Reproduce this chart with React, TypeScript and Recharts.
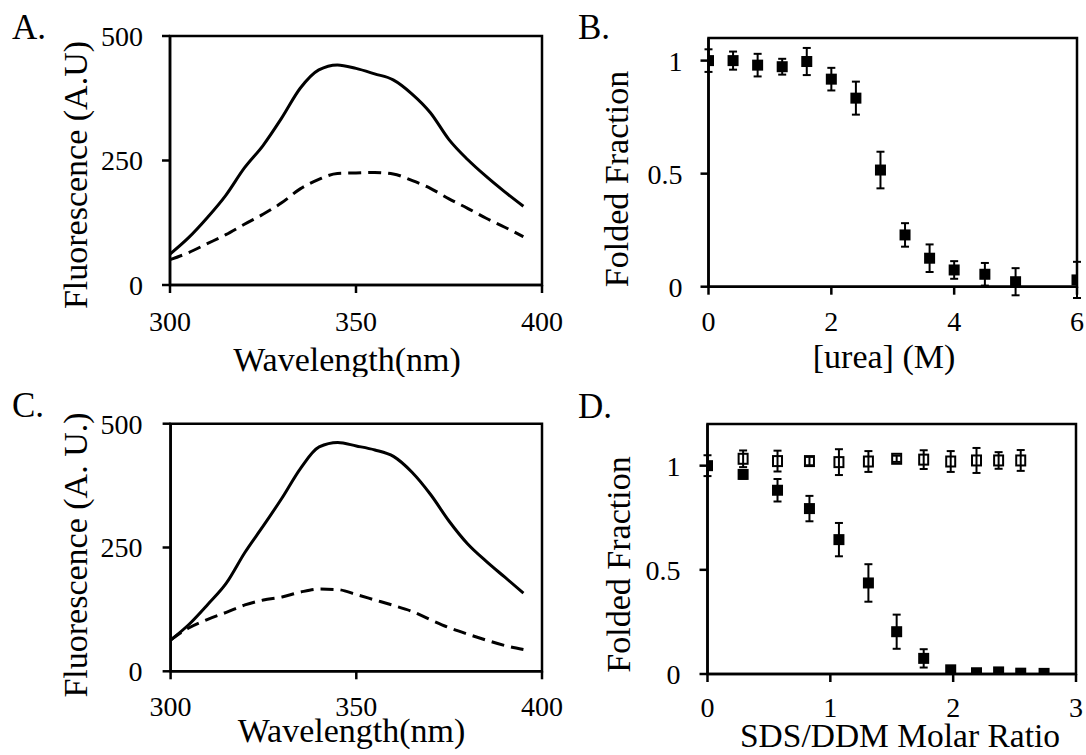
import React from "react";
import {
  ErrorBar,
  Line,
  LineChart,
  ReferenceArea,
  Scatter,
  ScatterChart,
  XAxis,
  YAxis,
} from "recharts";

// emission spectra, sampled every 5 nm
const wavelengths = [300, 305, 310, 315, 320, 325, 330, 335, 340, 345, 350, 355, 360, 365, 370, 375, 380, 385, 390, 395];
const spectrumASolid = [62, 95, 135, 180, 235, 280, 335, 395, 432, 442, 435, 424, 412, 384, 346, 292, 252, 218, 187, 158];
const spectrumADashed = [51, 65, 83, 101, 122, 142, 165, 193, 212, 224, 225, 226, 223, 210, 194, 173, 154, 134, 116, 97];
const spectrumCSolid = [63, 95, 135, 178, 240, 294, 350, 410, 453, 462, 455, 447, 434, 402, 357, 303, 257, 222, 190, 158];
const spectrumCDashed = [63, 88, 105, 119, 134, 144, 150, 160, 166, 165, 155, 144, 133, 121, 104, 88, 75, 63, 52, 44];

// urea denaturation
const ureaConc = [0, 0.4, 0.8, 1.2, 1.6, 2, 2.4, 2.8, 3.2, 3.6, 4, 4.5, 5, 6];
const ureaFolded = [1.0, 1.0, 0.98, 0.973, 0.996, 0.918, 0.834, 0.516, 0.229, 0.126, 0.074, 0.055, 0.022, 0.03];
const ureaErr = [0.05, 0.04, 0.05, 0.035, 0.06, 0.05, 0.073, 0.081, 0.052, 0.061, 0.039, 0.05, 0.06, 0.08];

// SDS titration (filled) and DDM control (open)
const sdsRatio = [0, 0.29, 0.57, 0.83, 1.07, 1.31, 1.54, 1.76, 1.98, 2.19, 2.37, 2.55, 2.74];
const sdsFolded = [1.0, 0.958, 0.882, 0.794, 0.645, 0.437, 0.203, 0.075, 0.02, 0.006, 0.01, 0.004, 0.003];
const sdsErr = [0.05, 0.02, 0.054, 0.061, 0.08, 0.09, 0.082, 0.044, 0.01, 0, 0, 0, 0];
const ddmRatio = [0.29, 0.57, 0.83, 1.07, 1.31, 1.54, 1.76, 1.98, 2.19, 2.37, 2.55];
const ddmFolded = [1.033, 1.022, 1.022, 1.017, 1.02, 1.033, 1.029, 1.02, 1.025, 1.025, 1.025];
const ddmErr = [0.04, 0.05, 0.02, 0.062, 0.05, 0.015, 0.045, 0.05, 0.06, 0.04, 0.05];

const FONT = "Liberation Serif";
const tickStyle = { fill: "#000", fontSize: 28, fontFamily: FONT };
const axisLine = { stroke: "#000", strokeWidth: 2.5 };

const toSpectrum = (solid: number[], dashed: number[]) =>
  wavelengths.map((wl, i) => ({ wl, solid: solid[i], dashed: dashed[i] }));
const toPoints = (xs: number[], ys: number[], errs: number[]) =>
  xs.map((x, i) => ({ x, y: ys[i], err: errs[i] }));

const yTitle = (text: string, x: number, y: number, size = 34) => () => (
  <text
    x={x}
    y={y}
    transform={`rotate(-90 ${x} ${y})`}
    textAnchor="middle"
    dominantBaseline="central"
    fontFamily={FONT}
    fontSize={size}
    fill="#000"
  >
    {text}
  </text>
);

const xTitle = (text: string, x: number, y: number, size = 34) => () => (
  <text x={x} y={y} textAnchor="middle" fontFamily={FONT} fontSize={size} fill="#000">
    {text}
  </text>
);

const FilledSquare = (props: any) => (
  <rect x={props.cx - 5.5} y={props.cy - 5.5} width={11} height={11} fill="#000" />
);
const OpenSquare = (props: any) => (
  <rect x={props.cx - 4.5} y={props.cy - 5} width={9} height={10} fill="none" stroke="#000" strokeWidth={2} />
);

interface Layout {
  left: number;
  top: number;
  width: number;
  height: number;
  marginTop: number;
  marginRight: number;
  yWidth: number;
  xHeight: number;
  xTickMargin: number;
  yTickMargin: number;
}

function SpectrumPanel({ layout, solid, dashed, yLabel, yPos, xPos }: {
  layout: Layout;
  solid: number[];
  dashed: number[];
  yLabel: string;
  yPos: [number, number];
  xPos: [number, number];
}) {
  const data = toSpectrum(solid, dashed);
  return (
    <div style={{ position: "absolute", left: layout.left, top: layout.top }}>
      <LineChart
        width={layout.width}
        height={layout.height}
        data={data}
        margin={{ top: layout.marginTop, right: layout.marginRight, bottom: 0, left: 0 }}
      >
        <ReferenceArea x1={300} x2={400} y1={0} y2={500} fill="none" stroke="#000" strokeWidth={2.5} />
        <XAxis
          type="number"
          dataKey="wl"
          domain={[300, 400]}
          ticks={[300, 350, 400]}
          interval={0}
          height={layout.xHeight}
          tick={tickStyle}
          tickSize={8}
          tickMargin={layout.xTickMargin}
          axisLine={axisLine}
          tickLine={axisLine}
          label={xTitle("Wavelength(nm)", xPos[0], xPos[1])}
        />
        <YAxis
          type="number"
          domain={[0, 500]}
          ticks={[0, 250, 500]}
          interval={0}
          allowDataOverflow
          width={layout.yWidth}
          tick={tickStyle}
          tickSize={8}
          tickMargin={layout.yTickMargin}
          axisLine={axisLine}
          tickLine={axisLine}
          label={yTitle(yLabel, yPos[0], yPos[1])}
        />
        <Line type="monotone" dataKey="solid" stroke="#000" strokeWidth={3} dot={false} isAnimationActive={false} />
        <Line
          type="monotone"
          dataKey="dashed"
          stroke="#000"
          strokeWidth={3}
          strokeDasharray="13 7"
          dot={false}
          isAnimationActive={false}
        />
      </LineChart>
    </div>
  );
}

function UreaPanel({ layout }: { layout: Layout }) {
  return (
    <div style={{ position: "absolute", left: layout.left, top: layout.top }}>
      <ScatterChart
        width={layout.width}
        height={layout.height}
        margin={{ top: layout.marginTop, right: layout.marginRight, bottom: 0, left: 0 }}
      >
        <ReferenceArea x1={0} x2={6} y1={0} y2={1.1} fill="none" stroke="#000" strokeWidth={2.5} />
        <XAxis
          type="number"
          dataKey="x"
          domain={[0, 6]}
          ticks={[0, 2, 4, 6]}
          interval={0}
          allowDataOverflow
          height={layout.xHeight}
          tick={tickStyle}
          tickSize={8}
          tickMargin={layout.xTickMargin}
          axisLine={axisLine}
          tickLine={axisLine}
          label={xTitle("[urea] (M)", 341, 368)}
        />
        <YAxis
          type="number"
          dataKey="y"
          domain={[0, 1.1]}
          ticks={[0, 0.5, 1]}
          interval={0}
          allowDataOverflow
          width={layout.yWidth}
          tick={tickStyle}
          tickSize={8}
          tickMargin={layout.yTickMargin}
          axisLine={axisLine}
          tickLine={axisLine}
          label={yTitle("Folded Fraction", 73, 179)}
        />
        <Scatter data={toPoints(ureaConc, ureaFolded, ureaErr)} shape={FilledSquare} isAnimationActive={false}>
          <ErrorBar dataKey="err" direction="y" width={4} stroke="#000" strokeWidth={2} isAnimationActive={false} />
        </Scatter>
      </ScatterChart>
    </div>
  );
}

function DetergentPanel({ layout }: { layout: Layout }) {
  return (
    <div style={{ position: "absolute", left: layout.left, top: layout.top }}>
      <ScatterChart
        width={layout.width}
        height={layout.height}
        margin={{ top: layout.marginTop, right: layout.marginRight, bottom: 0, left: 0 }}
      >
        <ReferenceArea x1={0} x2={3} y1={0} y2={1.2} fill="none" stroke="#000" strokeWidth={2.5} />
        <XAxis
          type="number"
          dataKey="x"
          domain={[0, 3]}
          ticks={[0, 1, 2, 3]}
          interval={0}
          allowDataOverflow
          height={layout.xHeight}
          tick={tickStyle}
          tickSize={8}
          tickMargin={layout.xTickMargin}
          axisLine={axisLine}
          tickLine={axisLine}
          label={xTitle("SDS/DDM Molar Ratio", 357, 370, 33.5)}
        />
        <YAxis
          type="number"
          dataKey="y"
          domain={[0, 1.2]}
          ticks={[0, 0.5, 1]}
          interval={0}
          allowDataOverflow
          width={layout.yWidth}
          tick={tickStyle}
          tickSize={8}
          tickMargin={layout.yTickMargin}
          axisLine={axisLine}
          tickLine={axisLine}
          label={yTitle("Folded Fraction", 75, 187.5)}
        />
        <Scatter data={toPoints(ddmRatio, ddmFolded, ddmErr)} shape={OpenSquare} isAnimationActive={false}>
          <ErrorBar dataKey="err" direction="y" width={4} stroke="#000" strokeWidth={2} isAnimationActive={false} />
        </Scatter>
        <Scatter data={toPoints(sdsRatio, sdsFolded, sdsErr)} shape={FilledSquare} isAnimationActive={false}>
          <ErrorBar dataKey="err" direction="y" width={4} stroke="#000" strokeWidth={2} isAnimationActive={false} />
        </Scatter>
      </ScatterChart>
    </div>
  );
}

const layoutA: Layout = { left: 0, top: 0, width: 600, height: 377, marginTop: 36, marginRight: 58, yWidth: 170, xHeight: 92, xTickMargin: 18, yTickMargin: 19 };
const layoutB: Layout = { left: 543, top: 0, width: 543, height: 377, marginTop: 38, marginRight: 9, yWidth: 165.5, xHeight: 90.3, xTickMargin: 16, yTickMargin: 18 };
const layoutC: Layout = { left: 0, top: 377, width: 600, height: 378, marginTop: 46.7, marginRight: 58, yWidth: 170.6, xHeight: 83.7, xTickMargin: 17, yTickMargin: 20 };
const layoutD: Layout = { left: 543, top: 377, width: 543, height: 378, marginTop: 47, marginRight: 10, yWidth: 164.5, xHeight: 81, xTickMargin: 15, yTickMargin: 19 };

const panelLetters = [
  { text: "A.", x: 12, y: 39 },
  { text: "B.", x: 578, y: 39 },
  { text: "C.", x: 12, y: 417 },
  { text: "D.", x: 578, y: 418 },
];

export default function App() {
  return (
    <div style={{ position: "absolute", left: 0, top: 0, width: 1086, height: 755, background: "#fff", overflow: "hidden" }}>
      <SpectrumPanel layout={layoutA} solid={spectrumASolid} dashed={spectrumADashed} yLabel="Fluorescence (A.U)" yPos={[75, 175]} xPos={[347, 371]} />
      <SpectrumPanel layout={layoutC} solid={spectrumCSolid} dashed={spectrumCDashed} yLabel="Fluorescence (A. U.)" yPos={[75, 178]} xPos={[351.5, 365]} />
      <UreaPanel layout={layoutB} />
      <DetergentPanel layout={layoutD} />
      <svg width={1086} height={755} style={{ position: "absolute", left: 0, top: 0, pointerEvents: "none" }}>
        {panelLetters.map((p) => (
          <text key={p.text} x={p.x} y={p.y} fontFamily={FONT} fontSize={35} fill="#000">
            {p.text}
          </text>
        ))}
      </svg>
    </div>
  );
}
